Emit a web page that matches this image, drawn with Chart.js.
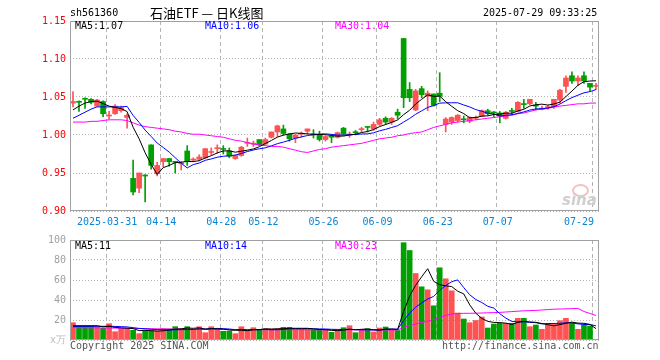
<!DOCTYPE html>
<html>
<head>
<meta charset="utf-8">
<script src="https://cdn.jsdelivr.net/npm/chart.js@4.4.1/dist/chart.umd.min.js"></script>
<style>
  html, body { margin: 0; padding: 0; background: #fff; }
  #wrap { position: relative; width: 660px; height: 360px; overflow: hidden; }
  canvas { position: absolute; left: 0; }
  .t { position: absolute; font: 10px 'DejaVu Sans Mono', monospace; line-height: 10px; white-space: pre; color: #000; }
</style>
</head>
<body>
<div id="wrap">
  <canvas id="price" width="660" height="232" style="top:0"></canvas>
  <canvas id="vol" width="660" height="130" style="top:230px"></canvas>

  <div class="t" style="left:70px;top:8px">sh561360</div>
  <div class="t" style="left:150px;top:6px;font:13px 'Noto Sans CJK SC',sans-serif;line-height:13px">石油ETF — 日K线图</div>
  <div class="t" style="left:483px;top:8px">2025-07-29 09:33:25</div>

  <div class="t" style="left:75px;top:21px">MA5:1.07</div>
  <div class="t" style="left:205px;top:21px;color:#0000ff">MA10:1.06</div>
  <div class="t" style="left:335px;top:21px;color:#ff00ff">MA30:1.04</div>

  <div class="t" style="left:75px;top:241px">MA5:11</div>
  <div class="t" style="left:205px;top:241px;color:#0000ff">MA10:14</div>
  <div class="t" style="left:335px;top:241px;color:#ff00ff">MA30:23</div>

  <div class="t" style="left:50px;top:335px;color:#bbb">x万</div>
  <div class="t" style="left:70px;top:341px;color:#555">Copyright 2025 SINA.COM</div>
  <div class="t" style="left:442px;top:341px;color:#555">http://finance.sina.com.cn</div>

  <div style="position:absolute;left:572px;top:184px;width:13px;height:9px;border:2px solid #f4c0c0;border-radius:50%"></div>
  <div class="t" style="left:562px;top:193px;font:italic bold 15px 'DejaVu Sans',sans-serif;line-height:14px;color:#cfcfcf">sina</div>
</div>

<script>
// 交易日
const dates = [
  '2025-03-21','2025-03-24','2025-03-25','2025-03-26','2025-03-27','2025-03-28','2025-03-31','2025-04-01','2025-04-02','2025-04-03',
  '2025-04-07','2025-04-08','2025-04-09','2025-04-10','2025-04-11','2025-04-14','2025-04-15','2025-04-16','2025-04-17','2025-04-18',
  '2025-04-21','2025-04-22','2025-04-23','2025-04-24','2025-04-25','2025-04-28','2025-04-29','2025-04-30','2025-05-06','2025-05-07',
  '2025-05-08','2025-05-09','2025-05-12','2025-05-13','2025-05-14','2025-05-15','2025-05-16','2025-05-19','2025-05-20','2025-05-21',
  '2025-05-22','2025-05-23','2025-05-26','2025-05-27','2025-05-28','2025-05-29','2025-05-30','2025-06-03','2025-06-04','2025-06-05',
  '2025-06-06','2025-06-09','2025-06-10','2025-06-11','2025-06-12','2025-06-13','2025-06-16','2025-06-17','2025-06-18','2025-06-19',
  '2025-06-20','2025-06-23','2025-06-24','2025-06-25','2025-06-26','2025-06-27','2025-06-30','2025-07-01','2025-07-02','2025-07-03',
  '2025-07-04','2025-07-07','2025-07-08','2025-07-09','2025-07-10','2025-07-11','2025-07-14','2025-07-15','2025-07-16','2025-07-17',
  '2025-07-18','2025-07-21','2025-07-22','2025-07-23','2025-07-24','2025-07-25','2025-07-28','2025-07-29'
];

// 横轴标注
const tickDates = ['2025-03-31','2025-04-14','2025-04-28','2025-05-12','2025-05-26','2025-06-09','2025-06-23','2025-07-07','2025-07-29'];
const tickTexts = ['2025-03-31','04-14','04-28','05-12','05-26','06-09','06-23','07-07','07-29'];
const priceTicks = [0.90, 0.95, 1.00, 1.05, 1.10, 1.15];
const volTicks = [0, 20, 40, 60, 80, 100];

// K线
const opens = [
  1.042,1.044,1.048,1.047,1.038,1.044,1.025,1.028,1.032,1.023,
  0.943,0.930,0.947,0.987,0.949,0.965,0.969,0.965,0.962,0.979,
  0.967,0.968,0.970,0.977,0.982,0.982,0.979,0.969,0.973,0.989,
  0.988,0.994,0.988,0.997,1.004,1.008,1.001,0.996,1.001,1.005,
  1.001,1.000,0.994,0.998,0.997,1.009,1.000,1.004,1.007,1.011,
  1.008,1.014,1.022,1.017,1.030,1.127,1.060,1.033,1.061,1.051,
  1.054,1.055,1.014,1.017,1.019,1.021,1.018,1.022,1.025,1.032,
  1.030,1.029,1.022,1.032,1.031,1.041,1.041,1.039,1.034,1.036,
  1.037,1.046,1.064,1.078,1.071,1.078,1.068,1.064
];
const highs = [
  1.057,1.045,1.049,1.048,1.047,1.045,1.031,1.040,1.038,1.028,
  0.967,0.950,0.948,0.987,0.964,0.969,0.969,0.965,0.965,0.986,
  0.970,0.974,0.982,0.983,0.987,0.986,0.983,0.974,0.985,0.996,
  0.992,0.994,0.996,1.004,1.013,1.013,1.002,1.001,1.004,1.008,
  1.007,1.005,0.999,1.000,1.004,1.010,1.004,1.006,1.010,1.011,
  1.017,1.022,1.024,1.023,1.034,1.127,1.069,1.060,1.064,1.058,
  1.054,1.082,1.023,1.024,1.027,1.025,1.024,1.025,1.033,1.034,
  1.031,1.031,1.031,1.035,1.044,1.047,1.047,1.043,1.038,1.039,
  1.047,1.060,1.078,1.083,1.078,1.083,1.068,1.068
];
const lows = [
  1.037,1.031,1.035,1.041,1.038,1.024,1.021,1.027,1.030,1.009,
  0.921,0.924,0.912,0.955,0.946,0.958,0.959,0.950,0.954,0.960,
  0.965,0.966,0.969,0.974,0.976,0.975,0.970,0.968,0.972,0.985,
  0.985,0.986,0.987,0.996,0.998,1.000,0.992,0.990,0.997,1.001,
  0.996,0.992,0.992,0.990,0.996,1.000,0.997,1.000,1.004,1.004,
  1.006,1.012,1.014,1.014,1.021,1.036,1.044,1.032,1.049,1.032,
  1.038,1.044,1.004,1.014,1.017,1.016,1.016,1.020,1.024,1.026,
  1.024,1.016,1.021,1.027,1.030,1.035,1.040,1.033,1.033,1.034,
  1.035,1.042,1.056,1.068,1.065,1.068,1.058,1.060
];
const closes = [
  1.044,1.043,1.047,1.043,1.046,1.028,1.026,1.038,1.036,1.026,
  0.925,0.950,0.946,0.960,0.960,0.969,0.965,0.964,0.963,0.965,
  0.968,0.971,0.982,0.978,0.983,0.981,0.972,0.973,0.984,0.990,
  0.989,0.987,0.994,1.004,1.012,1.002,0.995,1.000,1.002,1.008,
  1.000,0.994,0.998,0.997,1.003,1.001,1.001,1.003,1.008,1.010,
  1.014,1.020,1.017,1.022,1.026,1.049,1.049,1.058,1.053,1.055,
  1.039,1.051,1.021,1.023,1.026,1.020,1.023,1.023,1.032,1.028,
  1.029,1.025,1.030,1.031,1.043,1.040,1.047,1.038,1.035,1.037,
  1.047,1.059,1.075,1.071,1.075,1.071,1.063,1.065
];

// 均线(价格)
const ma5 = [
  1.033,1.038,1.042,1.044,1.0446,1.0414,1.038,1.0362,1.0348,1.0308,
  1.0102,0.995,0.9766,0.9614,0.9482,0.957,0.960,0.9636,0.9642,0.9652,
  0.965,0.9662,0.9698,0.9728,0.9764,0.979,0.9792,0.9774,0.9786,0.980,
  0.9816,0.9846,0.9888,0.9928,0.9972,0.9998,1.0014,1.0026,1.0022,1.0014,
  1.001,1.0008,1.0004,0.9994,0.9984,0.9986,1.000,1.001,1.0032,1.0046,
  1.0072,1.011,1.0138,1.0166,1.0198,1.0268,1.0326,1.0408,1.047,1.0528,
  1.0508,1.0512,1.0438,1.0378,1.032,1.0282,1.0226,1.023,1.0248,1.0252,
  1.027,1.0274,1.0288,1.0286,1.0316,1.0338,1.0382,1.0398,1.0406,1.0394,
  1.0408,1.0432,1.0506,1.0578,1.0654,1.0702,1.071,1.0714
];
const ma10 = [
  1.022,1.026,1.030,1.034,1.037,1.037,1.037,1.037,1.037,1.0377,
  1.0258,1.0165,1.0064,0.9981,0.9895,0.9836,0.9775,0.9701,0.9628,0.9567,
  0.961,0.9631,0.9667,0.9685,0.9708,0.972,0.9727,0.9736,0.9757,0.9782,
  0.9803,0.9819,0.9831,0.9857,0.9886,0.9907,0.993,0.9957,0.9975,0.9993,
  1.0004,1.0011,1.0015,1.0008,0.9999,0.9998,1.0004,1.0007,1.0013,1.0015,
  1.0029,1.0055,1.0074,1.0099,1.0122,1.017,1.0218,1.0273,1.0318,1.0363,
  1.0388,1.0419,1.0423,1.0424,1.0424,1.0395,1.0369,1.0334,1.0313,1.0286,
  1.0276,1.025,1.0259,1.0267,1.0284,1.0304,1.0328,1.0343,1.0346,1.0355,
  1.0373,1.0407,1.0452,1.0492,1.0524,1.0555,1.0571,1.0598
];
const ma30 = [
  1.017,1.017,1.017,1.018,1.018,1.019,1.020,1.020,1.020,1.019,
  1.016,1.013,1.011,1.010,1.009,1.008,1.007,1.005,1.004,1.002,
  1.001,1.001,1.000,0.999,0.998,0.997,0.995,0.993,0.992,0.990,
  0.988,0.987,0.986,0.985,0.985,0.984,0.982,0.980,0.978,0.977,
  0.979,0.981,0.982,0.984,0.985,0.986,0.987,0.988,0.989,0.991,
  0.993,0.995,0.996,0.997,0.999,1.000,1.002,1.003,1.004,1.007,
  1.010,1.012,1.014,1.016,1.017,1.018,1.019,1.020,1.021,1.022,
  1.023,1.024,1.025,1.026,1.028,1.029,1.031,1.033,1.034,1.035,
  1.037,1.038,1.039,1.040,1.041,1.041,1.042,1.042
];

// 成交量(万)
const volumes = [
  17.3,13.7,13.7,13.7,13.0,11.7,16.3,8.3,11.3,11.3,
  9.7,6.3,9.7,9.3,9.3,11.3,11.0,13.3,11.0,13.3,
  9.7,13.3,7.3,13.3,11.7,8.7,8.7,6.3,13.3,9.7,
  12.3,10.3,11.0,11.0,11.3,12.7,12.7,11.0,11.0,11.0,
  9.7,9.7,10.0,7.7,9.7,12.3,14.3,7.3,10.0,11.3,
  8.0,12.0,13.0,10.5,9.5,97.3,89.5,66.5,53.2,50.2,
  34.2,72.2,61.2,49.2,27.0,21.0,17.3,19.5,23.0,12.0,
  16.0,16.7,16.7,16.7,21.7,21.7,13.3,15.0,10.7,16.0,
  16.0,19.3,21.7,16.7,10.7,15.0,14.0,0.7
];
const vma5 = [
  14.3,14.3,14.3,14.3,14.3,13.2,13.7,12.6,12.1,11.8,
  11.4,9.4,9.7,9.3,8.9,9.2,10.1,10.8,11.2,12.0,
  11.7,12.1,10.9,11.4,11.1,10.9,9.9,9.7,9.7,9.3,
  10.1,10.4,11.3,10.9,11.2,11.3,11.7,11.7,11.7,11.7,
  11.1,10.5,10.3,9.6,9.4,9.9,10.8,10.3,10.7,11.0,
  10.2,9.7,10.9,11.0,10.6,28.5,44.0,54.7,63.2,71.3,
  58.7,55.3,54.2,53.4,48.8,46.1,35.1,26.8,21.6,18.6,
  17.6,17.4,16.9,15.6,17.6,18.7,18.0,17.7,16.5,15.3,
  14.2,15.4,16.7,17.9,16.9,16.7,15.6,11.4
];
const vma10 = [
  13.5,13.5,13.6,13.6,13.7,13.7,13.8,13.6,13.3,13.1,
  12.3,11.6,11.2,10.7,10.4,10.3,9.8,10.3,10.3,10.5,
  10.5,11.1,10.9,11.3,11.6,11.3,11.0,10.3,10.6,10.2,
  10.5,10.2,10.5,10.3,10.3,10.7,11.1,11.5,11.3,11.5,
  11.2,11.1,11.0,10.7,10.6,10.5,10.7,10.3,10.2,10.2,
  10.1,10.3,10.6,10.9,10.8,19.4,26.9,32.8,37.1,41.0,
  43.6,49.7,54.5,58.3,60.1,52.4,45.2,40.5,37.5,33.7,
  31.9,26.3,21.9,18.6,18.1,18.2,17.7,17.3,16.1,16.5,
  16.5,16.7,17.2,17.2,16.1,15.5,15.5,14.1
];
const vma30 = [
  12.3,12.3,12.2,12.2,12.1,12.0,12.0,11.9,11.8,11.7,
  11.6,11.5,11.4,11.3,11.2,11.1,11.0,11.0,10.9,10.9,
  10.8,10.8,10.7,10.7,10.6,10.6,10.5,10.5,10.5,10.4,
  10.4,10.4,10.4,10.3,10.3,10.3,10.3,10.3,10.3,10.3,
  10.3,10.2,10.2,10.2,10.2,10.2,10.2,10.2,10.1,10.1,
  10.0,10.0,10.0,10.0,10.0,12.7,14.5,16.0,17.5,18.7,
  20.5,22.7,24.5,26.0,26.5,26.7,26.7,26.8,27.0,27.2,
  27.4,27.6,28.0,28.4,28.8,29.2,29.4,29.6,30.0,30.4,
  30.8,31.0,31.2,31.3,31.6,28.5,26.5,24.5
];

const UP = '#ff5353';
const DOWN = '#00a000';
const MONO = "'DejaVu Sans Mono', monospace";
const GRID = '#b4b4b4';

const candleColors = closes.map((c, i) => (c >= opens[i] ? UP : DOWN));
const bodies = opens.map((o, i) => [o, closes[i]]);
const wicks = lows.map((l, i) => [l, highs[i]]);
const tickIndex = new Map(tickDates.map((d, k) => [dates.indexOf(d), tickTexts[k]]));

const framePlugin = {
  id: 'frame',
  afterDraw(chart) {
    const { ctx, chartArea: a } = chart;
    ctx.save();
    ctx.strokeStyle = '#a0a0a0';
    ctx.lineWidth = 1;
    ctx.strokeRect(a.left + 0.5, a.top + 0.5, a.right - a.left - 1, a.bottom - a.top - 1);
    ctx.restore();
  }
};

function maLine(label, data, color) {
  return {
    type: 'line', label, data,
    borderColor: color, borderWidth: 1,
    pointRadius: 0, tension: 0, order: 0,
  };
}

function xScale(showLabels) {
  return {
    grid: {
      offset: true,
      drawTicks: false,
      color: c => (tickIndex.has(c.index) ? GRID : 'transparent'),
    },
    border: { display: false, dash: [4, 3] },
    ticks: {
      display: showLabels,
      autoSkip: false,
      maxRotation: 0,
      labelOffset: -2,
      padding: 5,
      color: '#0a84d6',
      font: { family: MONO, size: 10 },
      callback: (v, i) => {
        const t = tickIndex.get(i);
        if (!t) return '';
        return i === dates.length - 1 ? t + '     ' : t;
      },
    },
    afterFit: s => { s.height = showLabels ? 21 : 0; },
  };
}

new Chart(document.getElementById('price'), {
  type: 'bar',
  data: {
    labels: dates,
    datasets: [
      maLine('MA5', ma5, '#000000'),
      maLine('MA10', ma10, '#0000ff'),
      maLine('MA30', ma30, '#ff00ff'),
      {
        label: 'K', data: bodies, backgroundColor: candleColors,
        barThickness: 5, grouped: false, minBarLength: 1, order: 3,
      },
      {
        label: 'HL', data: wicks, backgroundColor: candleColors,
        barThickness: 1, grouped: false, order: 4,
      },
    ],
  },
  options: {
    responsive: false,
    animation: false,
    layout: { padding: { top: 21, right: 61, left: 0, bottom: 0 } },
    plugins: { legend: { display: false }, tooltip: { enabled: false } },
    scales: {
      x: xScale(true),
      y: {
        min: 0.9, max: 1.15,
        afterBuildTicks: s => { s.ticks = priceTicks.map(v => ({ value: v })); },
        grid: { color: GRID, drawTicks: false },
        border: { display: false, dash: [1, 2] },
        ticks: {
          padding: 4, color: '#ff0000',
          font: { family: MONO, size: 10 },
          callback: v => v.toFixed(2),
        },
        afterFit: s => { s.width = 70; },
      },
    },
  },
  plugins: [framePlugin],
});

new Chart(document.getElementById('vol'), {
  type: 'bar',
  data: {
    labels: dates,
    datasets: [
      maLine('MA5', vma5, '#000000'),
      maLine('MA10', vma10, '#0000ff'),
      maLine('MA30', vma30, '#ff00ff'),
      {
        label: 'VOL', data: volumes, backgroundColor: candleColors,
        barThickness: 5, grouped: false, order: 3,
      },
    ],
  },
  options: {
    responsive: false,
    animation: false,
    layout: { padding: { top: 10, right: 61, left: 0, bottom: 20 } },
    plugins: { legend: { display: false }, tooltip: { enabled: false } },
    scales: {
      x: xScale(false),
      y: {
        min: 0, max: 100,
        afterBuildTicks: s => { s.ticks = volTicks.map(v => ({ value: v })); },
        grid: { color: GRID, drawTicks: false },
        border: { display: false, dash: [1, 2] },
        ticks: {
          padding: 4, color: '#a0a0a0',
          font: { family: MONO, size: 10 },
          callback: v => (v === 0 ? '' : String(v)),
        },
        afterFit: s => { s.width = 70; },
      },
    },
  },
  plugins: [framePlugin],
});
</script>
</body>
</html>
